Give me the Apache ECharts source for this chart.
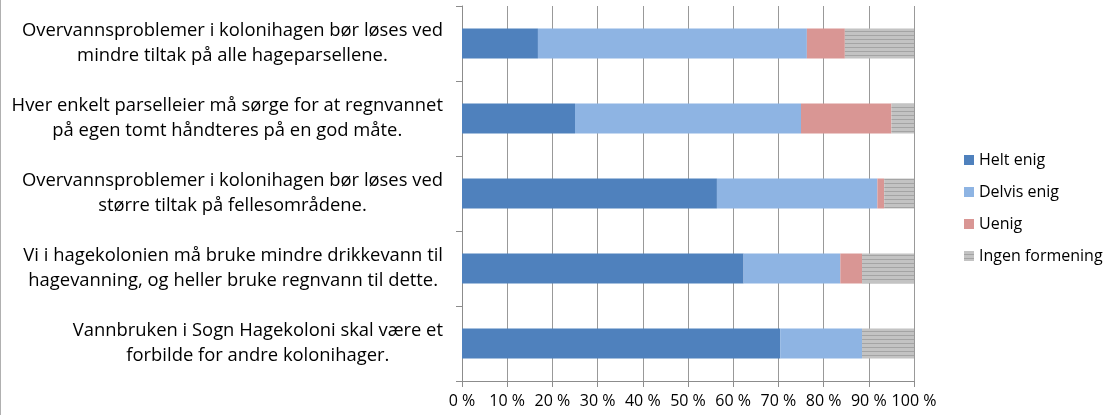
<!DOCTYPE html>
<html>
<head>
<meta charset="utf-8">
<script src="https://cdn.jsdelivr.net/npm/echarts@6/dist/echarts.min.js"></script>
<style>
  html, body { margin: 0; padding: 0; background: #fff; }
  #chart { width: 1107px; height: 415px; }
</style>
</head>
<body>
<div id="chart"></div>
<script>
// statements, top to bottom
const categories = [
  'Overvannsproblemer i kolonihagen bør løses ved\nmindre tiltak på alle hageparsellene.',
  'Hver enkelt parselleier må sørge for at regnvannet\npå egen tomt håndteres på en god måte.',
  'Overvannsproblemer i kolonihagen bør løses ved\nstørre tiltak på fellesområdene.',
  'Vi i hagekolonien må bruke mindre drikkevann til\nhagevanning, og heller bruke regnvann til dette.',
  'Vannbruken i Sogn Hagekoloni skal være et\nforbilde for andre kolonihager.'
]
const seriesNames = ['Helt enig', 'Delvis enig', 'Uenig', 'Ingen formening']
const heltEnig = [16.8, 25, 56.4, 62.3, 70.4]
const delvisEnig = [59.5, 50, 35.5, 21.4, 18.1]
const uenig = [8.4, 20, 1.5, 4.8, 0]
const ingenFormening = [15.3, 5, 6.6, 11.5, 11.5]
const xTicks = [0, 10, 20, 30, 40, 50, 60, 70, 80, 90, 100]

const FONT = '"Open Sans", "Noto Sans", sans-serif'

// striped grey fill for "Ingen formening"
const makeStripes = () => {
  const c = document.createElement('canvas')
  c.width = 8; c.height = 4
  const ctx = c.getContext('2d')
  ctx.fillStyle = '#c3c3c3'
  ctx.fillRect(0, 0, 8, 4)
  ctx.fillStyle = '#a4a4a4'
  ctx.fillRect(0, 3, 8, 1)
  return c
}

const colors = ['#4f81bd', '#8eb4e3', '#d99694', { image: makeStripes(), repeat: 'repeat' }]
const values = [heltEnig, delvisEnig, uenig, ingenFormening]

const myChart = echarts.init(document.getElementById('chart'))
const option = {
  animation: false,
  backgroundColor: '#fff',
  textStyle: { fontFamily: FONT },
  graphic: [{
    type: 'line', shape: { x1: 0.5, y1: 0, x2: 0.5, y2: 415 },
    style: { stroke: '#b0b0b0', lineWidth: 1 }, silent: true
  }],
  legend: {
    orient: 'vertical', left: 959, top: 146,
    icon: 'rect', itemWidth: 10, itemHeight: 10, itemGap: 14,
    data: seriesNames,
    textStyle: { color: '#000', fontSize: 16, fontFamily: FONT, lineHeight: 18 }
  },
  grid: { left: 462, right: 193, top: 6, bottom: 34, containLabel: false },
  xAxis: {
    type: 'value', min: 0, max: 100, interval: 10,
    axisLine: { show: true, lineStyle: { color: '#8c8c8c' } },
    axisTick: { show: true, length: 6, lineStyle: { color: '#8c8c8c' } },
    splitLine: { show: true, lineStyle: { color: '#999', width: 1 } },
    axisLabel: {
      color: '#000', fontSize: 16, fontFamily: FONT, margin: 12,
      formatter: v => xTicks.includes(v) ? v + ' %' : ''
    }
  },
  yAxis: {
    type: 'category', inverse: true, data: categories,
    axisLine: { show: true, lineStyle: { color: '#8c8c8c' } },
    axisTick: { show: true, length: 6, lineStyle: { color: '#8c8c8c' } },
    axisLabel: {
      margin: 19, color: '#000', fontSize: 18.4, fontFamily: FONT,
      formatter: v => v.split('\n').map(l => '{c|' + l + '}').join('\n'),
      rich: { c: { align: 'center', fontSize: 18.4, lineHeight: 25, color: '#000', fontFamily: FONT } }
    }
  },
  series: seriesNames.map((name, i) => ({
    name, type: 'bar', stack: 'total', barWidth: '40%',
    data: values[i],
    itemStyle: { color: colors[i] }
  }))
}
myChart.setOption(option)
window.addEventListener('resize', () => myChart.resize())
</script>
</body>
</html>
